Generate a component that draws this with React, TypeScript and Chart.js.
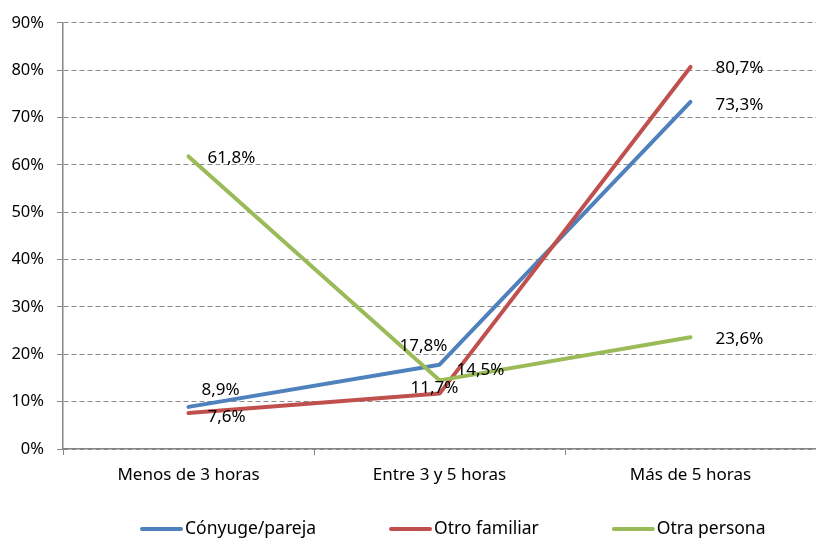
import { useEffect, useRef } from 'react';
import { Chart, registerables } from 'chart.js';

Chart.register(...registerables);

const categories = ['Menos de 3 horas', 'Entre 3 y 5 horas', 'Más de 5 horas'];
const seriesNames = ['Cónyuge/pareja', 'Otro familiar', 'Otra persona'];
const conyugeValues = [8.9, 17.8, 73.3];
const otroFamiliarValues = [7.6, 11.7, 80.7];
const otraPersonaValues = [61.8, 14.5, 23.6];
const yTickValues = [0, 10, 20, 30, 40, 50, 60, 70, 80, 90];

const seriesColors = ['#4F81BD', '#C0504D', '#9BBB59'];
// label offsets (text centre relative to point), per series, per point
const labelOffsets = [
  [[32, -17], [-16, -19], [49, 3]],
  [[38, 4], [-5, -5], [49, 1]],
  [[43, 2], [41, -10], [49, 2]],
];

const FONT = '"Noto Sans", sans-serif';
const Y_FONT_SIZE = 16.5;
const X_FONT_SIZE = 17;
const LABEL_FONT_SIZE = 17;
const LEGEND_FONT_SIZE = 17.5;

const fmt = (v: number) => v.toFixed(1).replace('.', ',') + '%';

const dataLabelPlugin = {
  id: 'dataLabels',
  afterDatasetsDraw(chart: any) {
    const ctx = chart.ctx;
    ctx.save();
    ctx.font = `${LABEL_FONT_SIZE}px ${FONT}`;
    ctx.fillStyle = '#000';
    ctx.textAlign = 'center';
    ctx.textBaseline = 'middle';
    chart.data.datasets.forEach((ds: any, di: number) => {
      const meta = chart.getDatasetMeta(di);
      meta.data.forEach((pt: any, i: number) => {
        const off = labelOffsets[di][i];
        ctx.fillText(fmt(ds.data[i]), pt.x + off[0], pt.y + off[1]);
      });
    });
    ctx.restore();
  },
};

const legendPlugin = {
  id: 'customLegend',
  afterDraw(chart: any) {
    const ctx = chart.ctx;
    ctx.save();
    ctx.font = `${LEGEND_FONT_SIZE}px ${FONT}`;
    ctx.textBaseline = 'middle';
    ctx.textAlign = 'left';
    const lineLen = 43;
    const gapText = 2;
    const gapItems = 73;
    const items = chart.data.datasets.map((ds: any) => ({
      text: ds.label,
      color: ds.borderColor,
      w: lineLen + gapText + ctx.measureText(ds.label).width,
    }));
    const ca = chart.chartArea;
    let x = ca.left + 77;
    const y = 529;
    items.forEach((it: any) => {
      ctx.strokeStyle = it.color;
      ctx.lineWidth = 4;
      ctx.lineCap = 'round';
      ctx.beginPath();
      ctx.moveTo(x + 2, y);
      ctx.lineTo(x + lineLen - 2, y);
      ctx.stroke();
      ctx.fillStyle = '#000';
      ctx.fillText(it.text, x + lineLen + gapText, y);
      x += it.w + gapItems;
    });
    ctx.restore();
  },
};

export default function App() {
  const ref = useRef<HTMLCanvasElement | null>(null);
  useEffect(() => {
    if (!ref.current) return;
    const values = [conyugeValues, otroFamiliarValues, otraPersonaValues];
    const chart = new Chart(ref.current, {
      type: 'line',
      data: {
        labels: categories,
        datasets: seriesNames.map((name, i) => ({
          label: name,
          data: values[i],
          borderColor: seriesColors[i],
          backgroundColor: seriesColors[i],
          borderWidth: 4,
          pointRadius: 0,
          tension: 0,
          borderCapStyle: 'round' as const,
          borderJoinStyle: 'round' as const,
          order: 3 - i,
        })),
      },
      options: {
        animation: false,
        responsive: false,
        layout: { padding: { top: 8, right: 0, bottom: 43, left: 0 } },
        plugins: {
          legend: { display: false },
          tooltip: { enabled: false },
        },
        scales: {
          x: {
            offset: true,
            grid: {
              offset: true,
              drawOnChartArea: false,
              drawTicks: true,
              tickLength: 6,
              color: '#868686',
            },
            border: { display: true, color: '#868686', width: 1.5 },
            afterFit: (scale: any) => {
              scale.height = 48;
            },
            ticks: {
              color: '#000',
              padding: 10,
              font: { family: FONT, size: X_FONT_SIZE },
              maxRotation: 0,
            },
          },
          y: {
            min: 0,
            max: 90,
            afterFit: (scale: any) => {
              scale.width = 63;
            },
            afterBuildTicks: (scale: any) => {
              scale.ticks = yTickValues.map((v) => ({ value: v }));
            },
            grid: {
              color: '#8c8c8c',
              lineWidth: 1,
              tickLength: 6,
              tickBorderDash: [],
              tickColor: '#8c8c8c',
            },
            border: { display: true, color: '#868686', width: 1.5, dash: [5, 3] },
            ticks: {
              color: '#000',
              padding: 13,
              font: { family: FONT, size: Y_FONT_SIZE },
              callback: (v: any) => v + '%',
            },
          },
        },
      },
      plugins: [dataLabelPlugin, legendPlugin],
    });
    return () => chart.destroy();
  }, []);
  return (
    <div style={{ position: 'absolute', left: 0, top: 0, width: 816, height: 540, background: '#fff' }}>
      <canvas ref={ref} width={816} height={540} />
    </div>
  );
}
